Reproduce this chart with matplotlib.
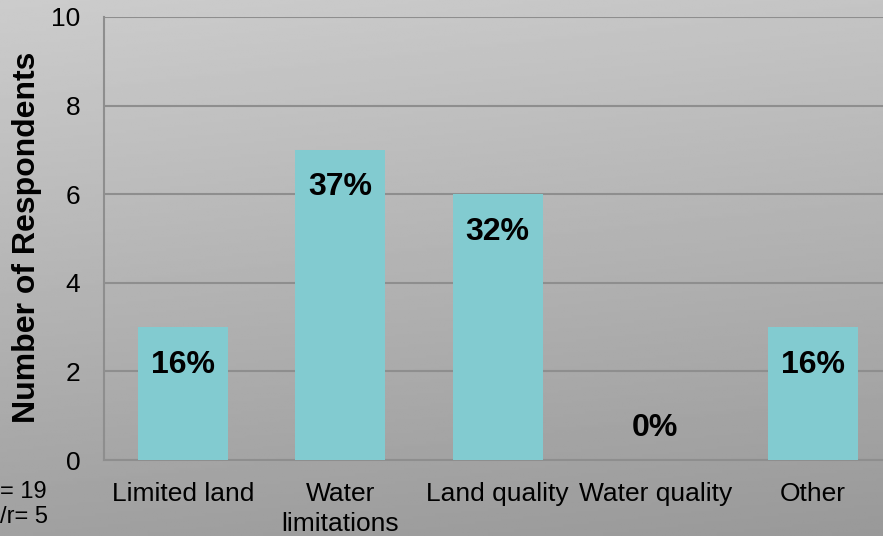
import numpy as np
import matplotlib.pyplot as plt

categories = ["Limited land", "Water\nlimitations", "Land quality", "Water quality", "Other"]
respondents = [3, 7, 6, 0, 3]
percent_labels = ["16%", "37%", "32%", "0%", "16%"]
note_lines = ["= 19", "/r= 5"]  # left part is cut off in the source picture

plt.rcParams['font.family'] = ['Liberation Sans', 'DejaVu Sans']

W, H = 883, 536
fig = plt.figure(figsize=(W / 100, H / 100), dpi=100)

# gray gradient background
bg = fig.add_axes([0, 0, 1, 1], zorder=-10)
yy, xx = np.mgrid[0:1:200j, 0:1:200j]
grad = 0.80 - 0.17 * yy - 0.03 * xx
bg.imshow(grad, cmap='gray', vmin=0, vmax=1, aspect='auto', extent=[0, 1, 0, 1], origin='upper')
bg.axis('off')

left, top, bottom = 104, 17, 460
step = 157.5
right = left + step * 5
ax = fig.add_axes([left / W, 1 - bottom / H, (right - left) / W, (bottom - top) / H])
ax.patch.set_alpha(0)

x = np.arange(len(categories))
ax.bar(x, respondents, width=0.57, color='#82cbd0', zorder=3)
ax.set_xlim(-0.5, 4.5)
ax.set_ylim(0, 10)
ax.set_yticks([0, 2, 4, 6, 8, 10])
ax.yaxis.grid(True, color='#8e8e8e', linewidth=1.5, zorder=0)
ax.set_axisbelow(True)
for s in ['top', 'right']:
    ax.spines[s].set_visible(False)
ax.spines['left'].set_color('#8e8e8e')
ax.spines['left'].set_linewidth(1.5)
ax.spines['bottom'].set_color('#8e8e8e')
ax.spines['bottom'].set_linewidth(1.5)
ax.tick_params(axis='both', length=0, labelsize=19, colors='black')
ax.tick_params(axis='y', pad=17)
ax.tick_params(axis='x', pad=16)
ax.set_xticks(x)
ax.set_xticklabels(categories, linespacing=1.3)

fig.text(27 / W, 1 - 237 / H, "Number of Respondents", rotation=90,
         ha='center', va='center', fontsize=23, fontweight='bold')

for xi, v, lab in zip(x, respondents, percent_labels):
    off = -27 if v > 0 else 23
    ax.annotate(lab, (xi, v), xytext=(0, off), textcoords='offset points',
                ha='center', va='center', fontsize=23, fontweight='bold', zorder=5)

fig.text(0, 1 - 492 / H, note_lines[0], ha='left', va='center', fontsize=17)
fig.text(0, 1 - 517 / H, note_lines[1], ha='left', va='center', fontsize=17)

fig.savefig("out.png", dpi=100)
